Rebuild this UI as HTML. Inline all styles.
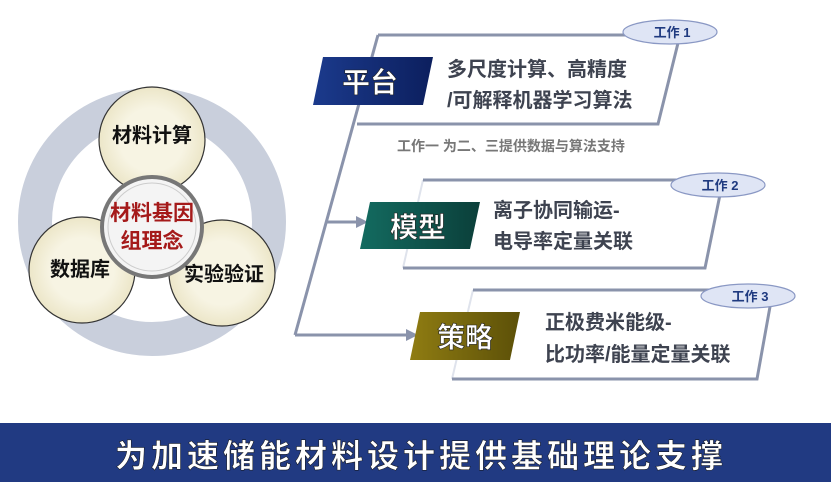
<!DOCTYPE html>
<html><head><meta charset="utf-8"><style>
body{margin:0;width:831px;height:482px;overflow:hidden;background:#fff;}
svg text{font-family:"Liberation Sans","Noto Sans CJK SC",sans-serif;font-weight:bold;}
</style></head><body>
<svg width="831" height="482" viewBox="0 0 831 482" xmlns="http://www.w3.org/2000/svg">
<defs>
<linearGradient id="gb" x1="0" y1="0" x2="1" y2="0"><stop offset="0" stop-color="#1b3a8c"/><stop offset="1" stop-color="#0c1f5e"/></linearGradient>
<linearGradient id="gt" x1="0" y1="0" x2="1" y2="0"><stop offset="0" stop-color="#136b60"/><stop offset="1" stop-color="#0b3f3a"/></linearGradient>
<linearGradient id="go" x1="0" y1="0" x2="1" y2="0"><stop offset="0" stop-color="#8f7c12"/><stop offset="1" stop-color="#5c5008"/></linearGradient>
<radialGradient id="gc" cx="0.5" cy="0.5" r="0.5"><stop offset="0.6" stop-color="#f7f4e3"/><stop offset="1" stop-color="#ece6c8"/></radialGradient>
</defs>
<circle cx="152" cy="222" r="117" fill="none" stroke="#c9cfdc" stroke-width="34"/>
<circle cx="152" cy="140" r="53" fill="url(#gc)" stroke="#333" stroke-width="1.2"/>
<circle cx="82" cy="270" r="53" fill="url(#gc)" stroke="#333" stroke-width="1.2"/>
<circle cx="222" cy="273" r="53" fill="url(#gc)" stroke="#333" stroke-width="1.2"/>
<circle cx="152" cy="227" r="50" fill="#f4f4f4" stroke="#777" stroke-width="4"/>
<circle cx="152" cy="227" r="44" fill="none" stroke="#ccc" stroke-width="1"/>
<text x="152" y="142" font-size="20" text-anchor="middle" fill="#111">材料计算</text>
<text x="80" y="276" font-size="20" text-anchor="middle" fill="#111">数据库</text>
<text x="224" y="281" font-size="20" text-anchor="middle" fill="#111">实验验证</text>
<text x="152" y="220" font-size="21" text-anchor="middle" fill="#a51a1a">材料基因</text>
<text x="152" y="248" font-size="21" text-anchor="middle" fill="#a51a1a">组理念</text>
<g stroke="#dfe3ec" stroke-width="2" fill="none">
<line x1="423" y1="180" x2="403" y2="268"/>
<line x1="473" y1="290" x2="452" y2="379"/>
</g>
<g stroke="#8a93ab" stroke-width="3" fill="none">
<polyline points="378,35 680,35 658,124 357,124"/>
<polyline points="423,180 723,180 705,268 403,268"/>
<polyline points="473,290 773,290 757,379 452,379"/>
<line x1="378" y1="35" x2="295" y2="335"/>
<line x1="327" y1="222" x2="358" y2="222"/>
<line x1="295" y1="335" x2="408" y2="335"/>
</g>
<polygon points="356,216 368,222 356,228" fill="#8a93ab"/>
<polygon points="406,329 418,335 406,341" fill="#8a93ab"/>
<polygon points="323,57 433,57 423,105 313,105" fill="url(#gb)"/>
<text x="370" y="92" font-size="28" text-anchor="middle" fill="#fff" stroke="#222" stroke-width="0.6">平台</text>
<polygon points="370,202 480,202 470,249 360,249" fill="url(#gt)"/>
<text x="418" y="237" font-size="28" text-anchor="middle" fill="#fff" stroke="#222" stroke-width="0.6">模型</text>
<polygon points="420,312 520,312 510,360 410,360" fill="url(#go)"/>
<text x="465" y="347" font-size="28" text-anchor="middle" fill="#fff" stroke="#222" stroke-width="0.6">策略</text>
<g font-size="20" fill="#3e4350">
<text x="447" y="76">多尺度计算、高精度</text>
<text x="447" y="107">/可解释机器学习算法</text>
<text x="493" y="217">离子协同输运-</text>
<text x="493" y="248">电导率定量关联</text>
<text x="545" y="329">正极费米能级-</text>
<text x="545" y="361">比功率/能量定量关联</text>
</g>
<text x="397" y="151" font-size="14" fill="#777">工作一  为二、三提供数据与算法支持</text>
<g fill="#dfe5f5" stroke="#8a98c4" stroke-width="1.2">
<ellipse cx="670" cy="32" rx="47" ry="12"/>
<ellipse cx="718" cy="185" rx="47" ry="12"/>
<ellipse cx="748" cy="296" rx="47" ry="12"/>
</g>
<g font-size="13" fill="#1f3a80" text-anchor="middle">
<text x="672" y="37">工作 1</text>
<text x="720" y="190">工作 2</text>
<text x="750" y="301">工作 3</text>
</g>
<rect x="0" y="423" width="831" height="59" fill="#213a82"/>
<text x="421" y="467" font-size="32" text-anchor="middle" fill="#fff" letter-spacing="4" stroke="#111" stroke-width="0.5">为加速储能材料设计提供基础理论支撑</text>
</svg>
</body></html>
